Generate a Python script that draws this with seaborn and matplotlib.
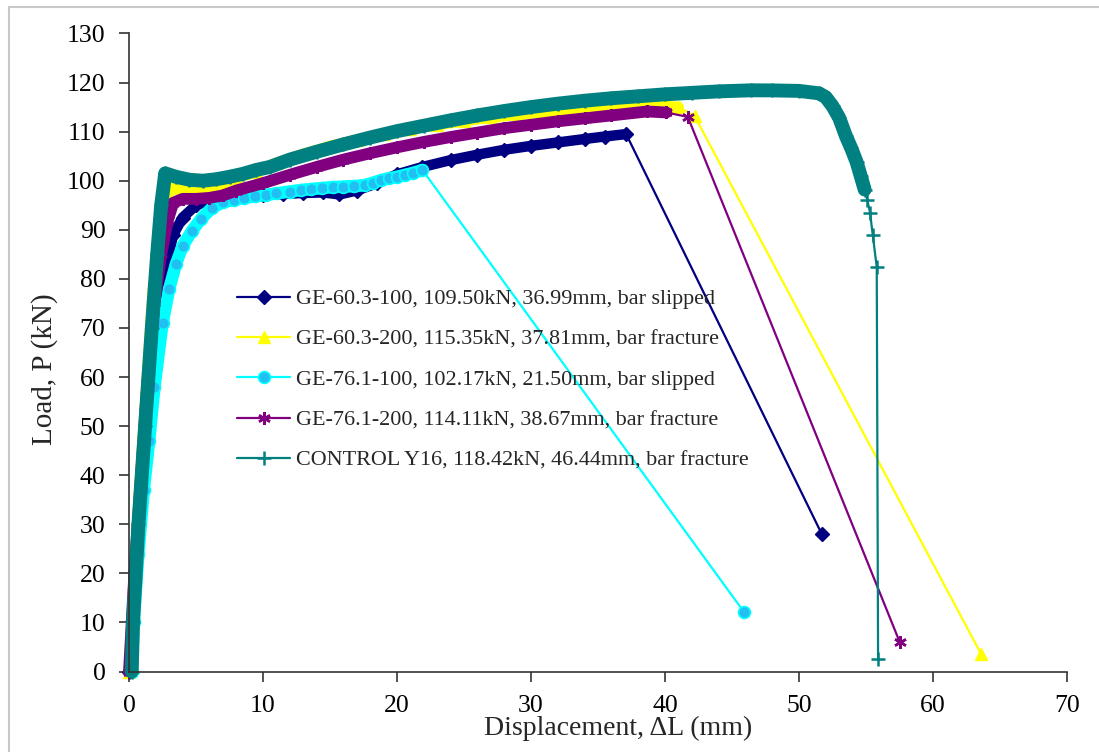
import matplotlib
matplotlib.use("Agg")
import matplotlib.pyplot as plt
from matplotlib.patches import Rectangle
import seaborn as sns

# ---------------- data ----------------
labels = [
    "GE-60.3-100, 109.50kN, 36.99mm, bar slipped",
    "GE-60.3-200, 115.35kN, 37.81mm, bar fracture",
    "GE-76.1-100, 102.17kN, 21.50mm, bar slipped",
    "GE-76.1-200, 114.11kN, 38.67mm, bar fracture",
    "CONTROL Y16, 118.42kN, 46.44mm, bar fracture",
]

ge603_100_x = [0, 0.3, 0.7, 1.2, 1.7, 2.2, 2.7, 3.3, 4.0, 5.0, 6.0, 7.0, 8.5, 10, 11.5, 13,
               14.5, 15.7, 17, 18.5, 20, 21.9, 24, 26, 28, 30, 32, 34, 35.5, 37.1, 51.7]
ge603_100_y = [0, 10, 28, 48, 63, 74, 82, 89, 92.5, 95, 96, 96.5, 97, 97, 97.3, 97.5,
               97.6, 97.2, 98, 99.5, 101.3, 102.8, 104.2, 105.3, 106.3, 107.1, 107.8, 108.5, 109, 109.5, 28.0]

ge603_200_x = [0, 0.3, 0.8, 1.3, 1.8, 2.3, 2.8, 3.3, 4.5, 5.8, 7, 8, 9.5, 11, 13, 15, 17, 19, 21,
               23, 25, 27, 29, 31, 33, 35, 37.8, 39.5, 41, 42.2, 63.6]
ge603_200_y = [0, 15, 38, 58, 78, 90, 97, 98.6, 98.2, 98.4, 99.4, 100.6, 101.8, 103.6, 105.4, 107,
               108.3, 109.5, 110.5, 111.4, 112.2, 112.9, 113.5, 114, 114.5, 114.9, 115.35, 115.2, 115, 113.2, 3.5]

ge761_100_x = [0.2, 0.35, 0.7, 1.1, 1.5, 1.9, 2.5, 3.0, 3.5, 4.0, 4.7, 5.4, 6.2, 7.0, 7.8, 8.6,
               9.4, 10.2, 11, 12, 12.8, 13.6, 14.4, 15.2, 16, 16.8, 17.6, 18.2, 18.8, 19.4, 20,
               20.6, 21.2, 21.9, 45.9]
ge761_100_y = [0, 10, 24, 37, 47, 58, 71, 78, 83, 86.7, 89.8, 92.3, 94.5, 95.6, 96.1, 96.5,
               96.8, 97.1, 97.4, 97.8, 98.1, 98.3, 98.5, 98.7, 98.8, 98.9, 99.1, 99.6, 100.1, 100.5, 100.8,
               101.2, 101.6, 102.17, 12.1]

ge761_200_x = [0, 0.4, 0.9, 1.4, 1.9, 2.4, 2.9, 3.3, 4, 5, 6, 7, 8, 10, 12, 14, 16, 18, 20, 22,
               24, 26, 28, 30, 32, 34, 36, 38.67, 40.1, 41.7, 57.5]
ge761_200_y = [0, 20, 40, 60, 75, 85, 92, 95.5, 96.3, 96.3, 96.5, 97, 98, 99.5, 101.2, 102.8,
               104.3, 105.6, 106.8, 107.9, 108.9, 109.8, 110.7, 111.4, 112.1, 112.7, 113.3, 114.11,
               113.9, 113, 6.1]

control_x = [0.2, 0.3, 0.7, 1.2, 1.7, 2.1, 2.4, 2.7, 3.5, 4.5, 5.5, 6.5, 7.5, 8.5, 9.5, 10.5, 12,
             14, 16, 18, 20, 22, 24, 26, 28, 30, 32, 34, 36, 38, 40, 42, 44, 46.44, 48, 50, 51.5,
             52.0, 52.5, 53.0, 53.5, 53.9, 54.3, 54.6, 54.9, 55.1, 55.3, 55.5, 55.8, 55.9]
control_y = [0, 10, 30, 50, 70, 85, 95, 101.5, 100.8, 100.2, 100, 100.3, 100.8, 101.4, 102.2, 102.8,
             104.3, 105.9, 107.4, 108.8, 110.1, 111.2, 112.3, 113.3, 114.2, 115, 115.7, 116.3, 116.8,
             117.2, 117.6, 117.9, 118.2, 118.42, 118.4, 118.3, 117.8,
             117.0, 115.2, 112.8, 109.1, 106.6, 103.8, 101.0, 98.2, 96.0, 93.5, 89, 82.4, 2.5]

xticks = [0, 10, 20, 30, 40, 50, 60, 70]
yticks = [0, 10, 20, 30, 40, 50, 60, 70, 80, 90, 100, 110, 120, 130]

# ---------------- styling ----------------
sns.set_style("ticks")
plt.rcParams["font.family"] = ["Liberation Serif", "DejaVu Serif"]

fig = plt.figure(figsize=(10.99, 7.52), dpi=100)
ax = fig.add_axes([0.1174, 0.1070, 0.8535, 0.8485])

series = [
    dict(x=ge603_100_x, y=ge603_100_y, color="#000080", marker="D", ms=7, mfc="#000080",
         mec="#000080", mew=1, band=7.5, cut=-1),
    dict(x=ge603_200_x, y=ge603_200_y, color="#FFFF00", marker="^", ms=9, mfc="#FFFF00",
         mec="#FFFF00", mew=1, band=8, cut=-2),
    dict(x=ge761_100_x, y=ge761_100_y, color="#00FFFF", marker="o", ms=8.5, mfc="#22BFF2",
         mec="#00FFFF", mew=1.2, band=9, cut=-1),
    dict(x=ge761_200_x, y=ge761_200_y, color="#800080", marker=(6, 2, 0), ms=9, mfc="#800080",
         mec="#800080", mew=1.8, band=8.5, cut=-2),
    dict(x=control_x, y=control_y, color="#008080", marker="+", ms=10, mfc="#008080",
         mec="#008080", mew=1.8, band=10, cut=-5),
]

for s, lab in zip(series, labels):
    # dense test record drawn as a thick band (the reference's markers overlap into a band)
    sns.lineplot(x=s["x"][:s["cut"]], y=s["y"][:s["cut"]], sort=False, estimator=None,
                 color=s["color"], linewidth=s["band"], solid_capstyle="round",
                 solid_joinstyle="round", legend=False, ax=ax, clip_on=False)
    sns.lineplot(x=s["x"], y=s["y"], sort=False, estimator=None, color=s["color"],
                 linewidth=1.6, marker=s["marker"], markersize=s["ms"],
                 markerfacecolor=s["mfc"], markeredgecolor=s["mec"], markeredgewidth=s["mew"],
                 label=lab, ax=ax, clip_on=False)

ax.set_xlim(0, 70)
ax.set_ylim(0, 130)
ax.set_xticks(xticks)
ax.set_yticks(yticks)
ax.tick_params(axis="both", direction="out", length=7, width=1.2, colors="#333333",
               labelsize=18.5, labelcolor="black")
ax.tick_params(axis="x", pad=10)
ax.tick_params(axis="y", pad=10)
for side in ["top", "right"]:
    ax.spines[side].set_visible(False)
for side in ["left", "bottom"]:
    ax.spines[side].set_color("#333333")
    ax.spines[side].set_linewidth(1.2)

ax.set_xlabel("Displacement, \u0394L (mm)", fontsize=20)
ax.set_ylabel("Load, P (kN)", fontsize=21)
ax.xaxis.set_label_coords(0.521, -0.089)
ax.xaxis.label.set_va("center")
ax.yaxis.set_label_coords(-0.0896, 0.474)
ax.yaxis.label.set_va("center")

leg = ax.legend(loc="upper left", bbox_to_anchor=(237 / 1099, 1 - 289 / 752),
                bbox_transform=fig.transFigure, frameon=False, fontsize=15.9,
                handlelength=2.4, handletextpad=0.25, labelspacing=0.9,
                borderaxespad=0, borderpad=0, numpoints=1)

fig.add_artist(Rectangle((9 / 1099, -0.5), 1.5, 1 - 7 / 752 + 0.5, fill=False,
                         edgecolor="#c8c8c8", linewidth=1.5, transform=fig.transFigure,
                         clip_on=False))

fig.savefig("out.png", dpi=100)
